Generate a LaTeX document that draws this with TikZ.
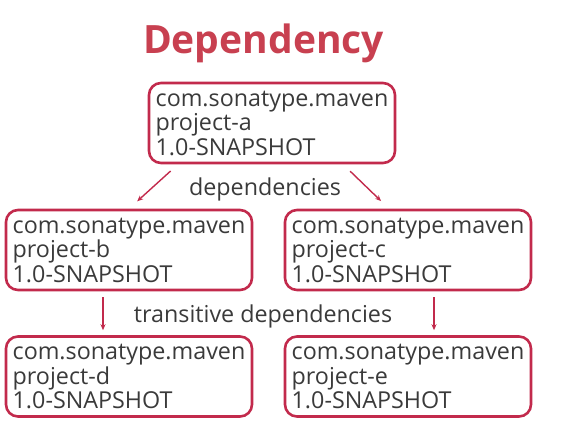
\documentclass[tikz,border=0pt]{standalone}
\usepackage{fontspec}
\setmainfont{Open Sans}
\usepackage{xcolor}
\usepackage{tikz}
\usetikzlibrary{arrows.meta}
\definecolor{depred}{RGB}{194,42,76}
\definecolor{titlered}{RGB}{200,64,80}
\definecolor{textgray}{RGB}{58,58,58}

\begin{document}
\begin{tikzpicture}[x=1pt, y=-1pt,
    projbox/.style={draw=depred, line width=2.6pt, rounded corners=12pt,
        minimum width=246pt, minimum height=80pt, inner sep=0pt,
        align=left, text=textgray, font=\fontsize{23.3}{24.5}\selectfont},
    deparrow/.style={draw=depred, line width=1.4pt, -{Stealth[length=6pt,width=5pt]}},
    deplabel/.style={text=textgray, font=\fontsize{23.3}{24.5}\selectfont, anchor=base}]
    \useasboundingbox (0,0) rectangle (569,432);
    \node [font=\fontsize{39}{44}\selectfont\bfseries, text=titlered, anchor=base] (title) at (263.5,53) {Dependency};

    % Projects
    \foreach \name/\x/\y in {a/272/123, b/129/250, c/408/250, d/129/376.5, e/408/376.5} {
        \node [projbox] (\name) at (\x,\y) {com.sonatype.maven\\project-\name\\1.0-SNAPSHOT};
    }

    % Dependencies
    \draw [deparrow, shorten <=10pt, shorten >=11pt] ([xshift=-94pt]a.south) -- (b.north);
    \draw [deparrow, shorten <=10pt, shorten >=11pt] ([xshift=71pt]a.south) -- ([xshift=-19pt]c.north);
    \node [deplabel] (deps) at (265,195) {dependencies};

    % Transitive dependencies
    \draw [deparrow, shorten <=6pt, shorten >=5pt] ([xshift=-26pt]b.south) -- ([xshift=-26pt]d.north);
    \draw [deparrow, shorten <=6pt, shorten >=5pt] ([xshift=26pt]c.south) -- ([xshift=26pt]e.north);
    \node [deplabel] (transdeps) at (263,322) {transitive dependencies};
\end{tikzpicture}
\end{document}
